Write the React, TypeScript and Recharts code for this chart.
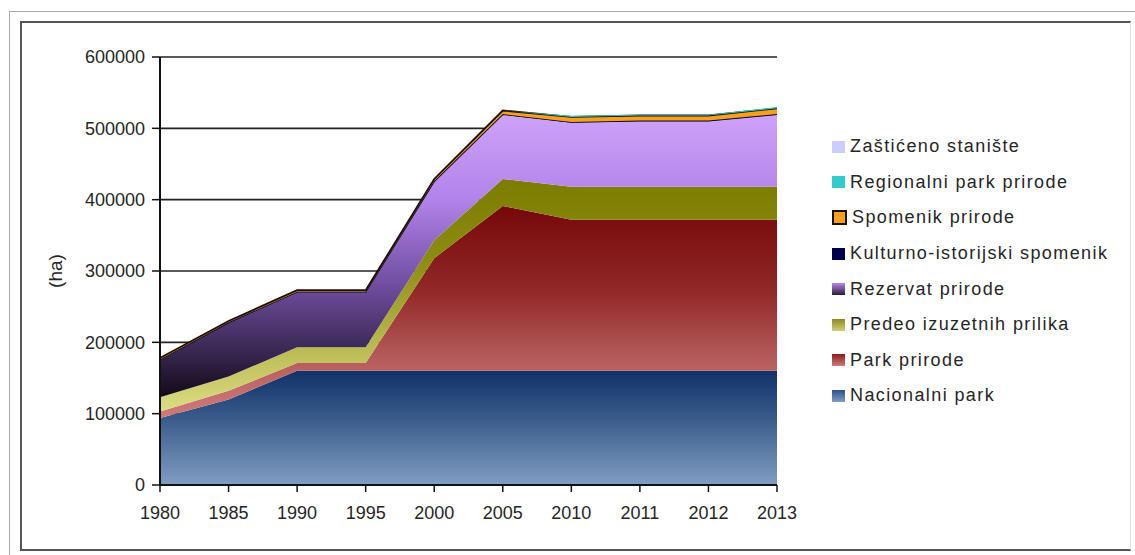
import React from "react";
import {
  AreaChart,
  Area,
  XAxis,
  YAxis,
  CartesianGrid,
} from "recharts";

// Protected areas in Serbia by category, hectares
const years = ["1980", "1985", "1990", "1995", "2000", "2005", "2010", "2011", "2012", "2013"];
const nacionalniPark = [94000, 120000, 160000, 160000, 160000, 160000, 160000, 160000, 160000, 160000];
const parkPrirode = [9000, 12000, 11000, 11000, 158000, 231000, 212000, 212000, 212000, 212000];
const predeoIzuzetnihPrilika = [20000, 20000, 22000, 22000, 25000, 38000, 46000, 46000, 46000, 46000];
const rezervatPrirode = [52000, 75000, 77000, 77000, 82000, 90000, 90000, 92000, 92000, 101000];
const kulturnoIstorijskiSpomenik = [1000, 1000, 1000, 1000, 1000, 1000, 1000, 1000, 1000, 1000];
const spomenikPrirode = [2000, 2000, 2000, 2000, 3000, 5000, 7000, 7000, 7000, 8000];
const regionalniParkPrirode = [0, 0, 0, 0, 0, 0, 1500, 1000, 1000, 2000];
const zasticenoStaniste = [0, 0, 0, 0, 0, 0, 0, 0, 0, 0];
const yTicks = [0, 100000, 200000, 300000, 400000, 500000, 600000];

const FONT = "Arial, 'Liberation Sans', sans-serif";

// bottom-up stacking order
const series = [
  { key: "nac", name: "Nacionalni park", values: nacionalniPark, fill: "url(#gNac)", swatch: "linear-gradient(#2c5488, #7f9cc4)", stroke: "none", sw: 0 },
  { key: "park", name: "Park prirode", values: parkPrirode, fill: "url(#gPark)", swatch: "linear-gradient(#8a1c1c, #cf7a7a)", stroke: "none", sw: 0 },
  { key: "predeo", name: "Predeo izuzetnih prilika", values: predeoIzuzetnihPrilika, fill: "url(#gPredeo)", swatch: "linear-gradient(#8c8c20, #cfcf78)", stroke: "none", sw: 0 },
  { key: "rez", name: "Rezervat prirode", values: rezervatPrirode, fill: "url(#gRez)", swatch: "linear-gradient(#b888ee, #2a1a3a)", stroke: "none", sw: 0 },
  { key: "kult", name: "Kulturno-istorijski spomenik", values: kulturnoIstorijskiSpomenik, fill: "#000060", swatch: "#00004a", stroke: "#0a0a30", sw: 1.8 },
  { key: "spom", name: "Spomenik prirode", values: spomenikPrirode, fill: "#f7a01e", swatch: "#f7a01e", stroke: "#1a1000", sw: 1.8 },
  { key: "reg", name: "Regionalni park prirode", values: regionalniParkPrirode, fill: "#33cccc", swatch: "#33cccc", stroke: "none", sw: 0 },
  { key: "zas", name: "Zaštićeno stanište", values: zasticenoStaniste, fill: "#ccccff", swatch: "#ccccff", stroke: "none", sw: 0 },
];

const data = years.map((year, i) => {
  const row: Record<string, string | number> = { year };
  series.forEach((s) => {
    row[s.key] = s.values[i];
  });
  return row;
});

function SeriesLegend() {
  const items = [...series].reverse();
  return (
    <div style={{ position: "absolute", left: 832, top: 129, fontFamily: FONT }}>
      {items.map((s) => (
        <div
          key={s.key}
          style={{ display: "flex", alignItems: "center", height: 35.6 }}
        >
          <div
            style={{
              width: s.key === "spom" ? 11 : 13,
              height: s.key === "spom" ? 11 : 12,
              background: s.swatch,
              border: s.key === "spom" ? "2px solid #1a1000" : "none",
              marginRight: 5,
            }}
          />
          <span
            style={{
              fontSize: 18,
              letterSpacing: 1.4,
              color: "#262626",
              whiteSpace: "nowrap",
            }}
          >
            {s.name}
          </span>
        </div>
      ))}
    </div>
  );
}

export default function App() {
  return (
    <div
      style={{
        position: "fixed",
        left: 0,
        top: 0,
        width: 1135,
        height: 555,
        background: "#fff",
        overflow: "hidden",
      }}
    >
      <div
        style={{
          position: "absolute",
          left: 9,
          top: 11,
          width: 1140,
          height: 560,
          border: "1px solid #a8a8a8",
        }}
      />
      <div
        style={{
          position: "absolute",
          left: 20,
          top: 21,
          width: 1108,
          height: 526,
          borderTop: "2px solid #555",
          borderLeft: "2px solid #555",
          borderBottom: "2px solid #555",
          borderRight: "1px solid #ddd",
        }}
      />
      <div style={{ position: "absolute", left: 0, top: 0 }}>
        <AreaChart
          width={1135}
          height={555}
          data={data}
          margin={{ top: 57, right: 358, bottom: 40, left: 20 }}
        >
          <defs>
            <linearGradient id="gNac" x1="0" y1="0" x2="0" y2="1">
              <stop offset="0%" stopColor="#0f3268" />
              <stop offset="45%" stopColor="#3d5f8e" />
              <stop offset="100%" stopColor="#809dc3" />
            </linearGradient>
            <linearGradient id="gPark" x1="0" y1="0" x2="0" y2="1">
              <stop offset="0%" stopColor="#760808" />
              <stop offset="40%" stopColor="#922828" />
              <stop offset="75%" stopColor="#b86060" />
              <stop offset="100%" stopColor="#d07a7a" />
            </linearGradient>
            <linearGradient id="gPredeo" x1="0" y1="0" x2="0" y2="1">
              <stop offset="0%" stopColor="#7c7c00" />
              <stop offset="35%" stopColor="#8c8c10" />
              <stop offset="100%" stopColor="#dcdc84" />
            </linearGradient>
            <linearGradient id="gRez" x1="0" y1="0" x2="0" y2="1">
              <stop offset="0%" stopColor="#cda2f8" />
              <stop offset="30%" stopColor="#b283ea" />
              <stop offset="60%" stopColor="#704ea0" />
              <stop offset="85%" stopColor="#36254e" />
              <stop offset="100%" stopColor="#120a16" />
            </linearGradient>
          </defs>
          <CartesianGrid vertical={false} stroke="#222" strokeWidth={1.6} />
          <XAxis
            dataKey="year"
            height={30}
            axisLine={{ stroke: "#111", strokeWidth: 2 }}
            tickLine={{ stroke: "#111", strokeWidth: 1.5 }}
            tickSize={7}
            tickMargin={14}
            tick={{ fontSize: 18, fill: "#262626", fontFamily: FONT }}
            interval={0}
          />
          <YAxis
            width={140}
            domain={[0, 600000]}
            ticks={yTicks}
            axisLine={{ stroke: "#111", strokeWidth: 2 }}
            tickLine={{ stroke: "#111", strokeWidth: 1.5 }}
            tickSize={8}
            tickMargin={7}
            tick={{ fontSize: 18, fill: "#262626", fontFamily: FONT }}
            label={({ viewBox }: any) => {
              const cx = viewBox.x + 35;
              const cy = viewBox.y + viewBox.height / 2;
              return (
                <text
                  x={cx}
                  y={cy}
                  transform={`rotate(-90 ${cx} ${cy})`}
                  textAnchor="middle"
                  dominantBaseline="central"
                  fontSize={19}
                  fontFamily={FONT}
                  fill="#262626"
                >
                  (ha)
                </text>
              );
            }}
          />
          {series.map((s) => (
            <Area
              key={s.key}
              type="linear"
              dataKey={s.key}
              name={s.name}
              stackId="1"
              fill={s.fill}
              fillOpacity={1}
              stroke={s.stroke}
              strokeWidth={s.sw}
              isAnimationActive={false}
              dot={false}
              activeDot={false}
            />
          ))}
        </AreaChart>
      </div>
      <SeriesLegend />
    </div>
  );
}
